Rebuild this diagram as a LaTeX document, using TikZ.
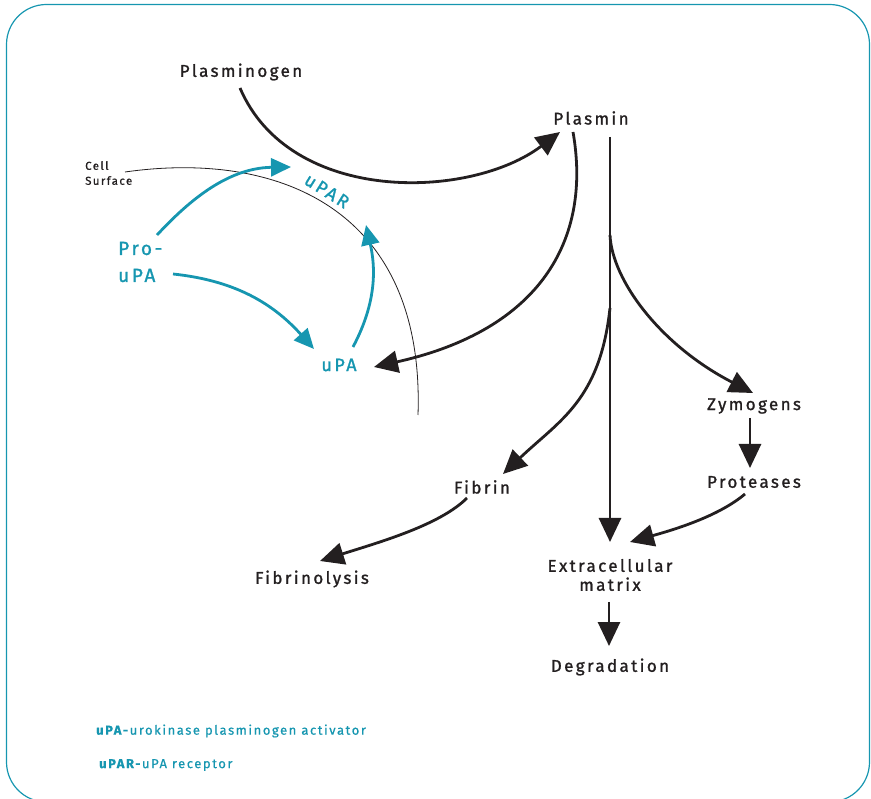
\documentclass[tikz,border=0pt]{standalone}
\usepackage{fontspec}
\setmainfont{Fira Sans}
\newfontfamily\lblfont[LetterSpace=14, FakeBold=1.3]{Fira Sans}
\newfontfamily\smlfont[LetterSpace=12, FakeBold=0.6]{Fira Sans}
\usetikzlibrary{arrows.meta}
\definecolor{teal1}{RGB}{22,150,176}
\definecolor{ink}{RGB}{35,31,32}
\tikzset{
  lbl/.style={font=\lblfont\fontsize{17}{19}\selectfont, text=ink, inner sep=0pt, align=center},
  tlbl/.style={font=\lblfont\fontsize{18}{23}\selectfont, text=teal1, inner sep=0pt},
  blk/.style={draw=ink, line width=2.8pt, -{Triangle[length=24pt,width=22pt]}},
  tea/.style={draw=teal1, line width=2.8pt, -{Triangle[length=20pt,width=18pt]}},
  legend/.style={font=\smlfont\fontsize{13}{15}\selectfont, text=teal1, inner sep=0pt, anchor=west},
}
\begin{document}
\begin{tikzpicture}[x=1pt,y=-1pt]
\useasboundingbox (0,0) rectangle (871,799);
\draw[teal1, line width=1.2pt, rounded corners=40pt] (6.5,4.5) rectangle (869.5,802);

% cell surface
\coordinate (csA) at (125,172);
\coordinate (csB) at (418,415);
\draw[ink, line width=0.8pt] (csA) .. controls (280,150) and (425,210) .. (csB);
\node[font=\smlfont\fontsize{11.5}{15}\selectfont, text=ink, align=left, anchor=north west, inner sep=0pt] (cell) at (85,161) {Cell\\Surface};

% nodes
\node[lbl] (plg) at (241,72) {Plasminogen};
\node[lbl] (pls) at (591,118) {Plasmin};
\node[lbl] (zym) at (754,406) {Zymogens};
\node[lbl] (prot) at (754,482) {Proteases};
\node[lbl] (fib) at (482,487) {Fibrin};
\node[lbl] (fibly) at (312,579) {Fibrinolysis};
\node[lbl, font=\lblfont\fontsize{17}{19}\selectfont] (ecm) at (610,575) {Extracellular\\matrix};
\node[lbl] (deg) at (610,667) {Degradation};
\node[tlbl, align=left, anchor=west, font=\lblfont\fontsize{19}{27}\selectfont] (prou) at (118,262) {Pro-\\uPA};
\node[tlbl] (upa) at (339,365) {uPA};
\node[tlbl, rotate=-32, font=\lblfont\fontsize{18}{20}\selectfont] (upar) at (327,191) {uPAR};

% helper coordinates
\coordinate (plgS) at (240,88);
\coordinate (plsTip) at (560,132);
\coordinate (plsL) at (573,132);
\coordinate (upaTip) at (374,367);
\coordinate (vtop) at (610,137);
\coordinate (ecmTip) at (610,542);
\coordinate (brZ) at (610,235);
\coordinate (zymTip) at (753,393);
\coordinate (brF) at (610,308);
\coordinate (fibTip) at (503,474);
\coordinate (zymS) at (750,418);
\coordinate (protTip) at (750,468);
\coordinate (protS) at (745,494);
\coordinate (ecmTipR) at (630,542);
\coordinate (fibS) at (467,498);
\coordinate (fiblyTip) at (320,561);
\coordinate (ecmS) at (609,602);
\coordinate (degTip) at (609,646);
\coordinate (prouA) at (157,235);
\coordinate (uparTip) at (291,167);
\coordinate (prouB) at (173,274);
\coordinate (upaTipL) at (314,349);
\coordinate (upaS) at (353,347);
\coordinate (uparTip2) at (366,225);

% black arrows
\draw[blk] (plgS) .. controls (290,205) and (470,200) .. (plsTip);
\draw[blk] (plsL) .. controls (592,240) and (540,330) .. (upaTip);
\draw[blk] (vtop) -- (ecmTip);
\draw[blk] (brZ) .. controls (612,280) and (660,345) .. (zymTip);
\draw[blk] (brF) .. controls (600,400) and (560,420) .. (fibTip);
\draw[blk] (zymS) -- (protTip);
\draw[blk] (protS) .. controls (720,515) and (680,528) .. (ecmTipR);
\draw[blk] (fibS) .. controls (440,525) and (380,542) .. (fiblyTip);
\draw[blk] (ecmS) -- (degTip);

% teal arrows
\draw[tea] (prouA) .. controls (185,205) and (225,168) .. (uparTip);
\draw[tea] (prouB) .. controls (230,280) and (270,300) .. (upaTipL);
\draw[tea] (upaS) .. controls (378,300) and (375,265) .. (uparTip2);

% legend
\node[legend] (leg1) at (96,731) {\textbf{uPA-}urokinase plasminogen activator};
\node[legend] (leg2) at (99,765) {\textbf{uPAR-}uPA receptor};
\end{tikzpicture}
\end{document}
